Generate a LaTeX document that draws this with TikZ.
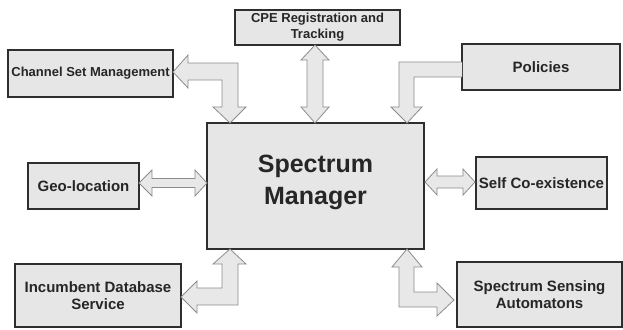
\documentclass[tikz,border=0pt]{standalone}
\usepackage{fontspec}
\newfontfamily\labfont{Liberation Sans}
\definecolor{boxfill}{HTML}{E6E6E6}
\definecolor{boxline}{HTML}{2E2E2E}
\definecolor{arrfill}{HTML}{E8E8E8}
\definecolor{arrline}{HTML}{8C8C8C}
\begin{document}
\begin{tikzpicture}[x=1pt,y=-1pt,
  blk/.style={draw=boxline, fill=boxfill, line width=1.3pt, inner sep=0pt, outer sep=0pt, align=center, text=black!85},
  lab/.style={font=\labfont\bfseries\fontsize{15}{17.5}\selectfont},
  labs/.style={font=\labfont\bfseries\fontsize{13}{16}\selectfont},
  fatarrow/.style={draw=arrline, fill=arrfill, line width=0.8pt, line join=miter}]
\useasboundingbox (0,0) rectangle (623,329);
% boxes
\node[blk, labs, minimum width=165pt, minimum height=47pt] (cs) at (90.5,73.5) {Channel Set Management};
\node[blk, labs, minimum width=165pt, minimum height=35pt] (cpe) at (317.5,27.5) {CPE Registration and\\Tracking};
\node[blk, lab, minimum width=158pt, minimum height=46pt] (pol) at (541,67) {Policies};
\node[blk, minimum width=217pt, minimum height=126pt] (sm) at (315.5,186) {};
\node[font=\labfont\bfseries\fontsize{25}{32}\selectfont, align=center, text=black!85] (smt) at (315.5,182.5) {Spectrum\\Manager};
\node[blk, lab, minimum width=111pt, minimum height=46pt] (geo) at (83.5,186) {Geo-location};
\node[blk, lab, minimum width=131pt, minimum height=52pt] (self) at (541.5,183) {Self Co-existence};
\node[blk, lab, minimum width=166pt, minimum height=63pt] (inc) at (98,295.5) {Incumbent Database\\Service};
\node[blk, lab, minimum width=165pt, minimum height=65pt] (sens) at (539.5,294.5) {Spectrum Sensing\\Automatons};
% arrows
\draw[fatarrow] (173,72) -- (188,55) -- (188,63) -- (238,63) -- (238,107) -- (246,107) -- (230,123) -- (213,107) -- (222,107) -- (222,80) -- (188,80) -- (188,88) -- cycle;
\draw[fatarrow] (315,45) -- (329,60) -- (323,60) -- (323,107) -- (329,107) -- (315,123) -- (301,107) -- (307,107) -- (307,60) -- (301,60) -- cycle;
\draw[fatarrow] (462,62) -- (399,62) -- (399,107) -- (391,107) -- (407,123) -- (422,107) -- (414,107) -- (414,77) -- (462,77);
\draw[fatarrow] (139,183) -- (152,170) -- (152,178.5) -- (195,178.5) -- (195,170) -- (207,183) -- (195,196) -- (195,187.5) -- (152,187.5) -- (152,196) -- cycle;
\draw[fatarrow] (425,182) -- (437,169) -- (437,176) -- (463,176) -- (463,169) -- (475,182) -- (463,195) -- (463,188) -- (437,188) -- (437,195) -- cycle;
\draw[fatarrow] (181,297) -- (197,281) -- (197,288) -- (222,288) -- (222,264) -- (213,264) -- (230,249) -- (246,264) -- (238,264) -- (238,305) -- (197,305) -- (197,313) -- cycle;
\draw[fatarrow] (407,249) -- (422,267) -- (414,267) -- (414,292) -- (437,292) -- (437,283) -- (454,300) -- (437,316) -- (437,307) -- (399,307) -- (399,267) -- (392,267) -- cycle;
\end{tikzpicture}
\end{document}
